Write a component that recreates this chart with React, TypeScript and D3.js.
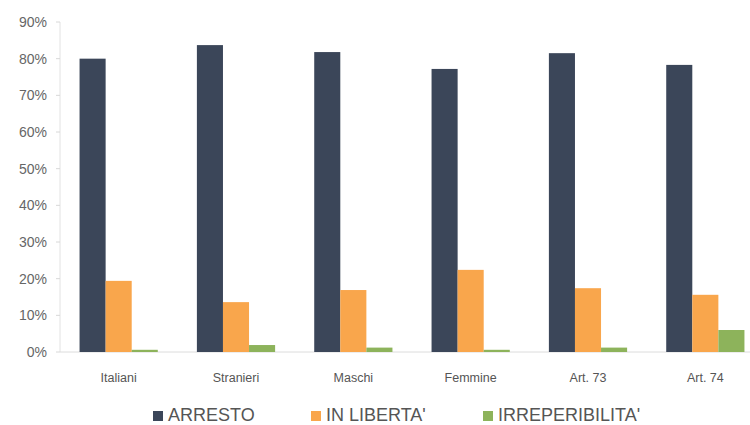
import React from "react";
import * as d3 from "d3";

const categories = ["Italiani", "Stranieri", "Maschi", "Femmine", "Art. 73", "Art. 74"];
const seriesNames = ["ARRESTO", "IN LIBERTA'", "IRREPERIBILITA'"];
const arresto = [80.0, 83.7, 81.8, 77.2, 81.5, 78.3];
const inLiberta = [19.4, 13.6, 16.9, 22.4, 17.4, 15.6];
const irreperibilita = [0.6, 1.9, 1.2, 0.6, 1.2, 6.0];
const yTicks = [0, 10, 20, 30, 40, 50, 60, 70, 80, 90];
const colors = ["#3b4659", "#f9a64c", "#8db35b"];

const W = 750;
const H = 425;
const axisX = 60;

export default function App() {
  const series = [arresto, inLiberta, irreperibilita];
  const x = d3.scaleBand<string>().domain(categories).range([axisX, 764]).paddingInner(0).paddingOuter(0);
  const inner = d3.scaleBand<string>().domain(seriesNames).range([0, x.bandwidth()]).paddingInner(0).paddingOuter(0.75);
  const y = d3.scaleLinear().domain([0, 90]).range([352, 22]);
  const font = "Arial, 'Liberation Sans', sans-serif";

  return (
    <svg width={W} height={H} style={{ position: "absolute", left: 0, top: 0, background: "#fff" }}>
      <rect x={0} y={0} width={W} height={H} fill="#fff" />
      <line x1={axisX} x2={axisX} y1={y(90)} y2={y(0)} stroke="#e2e2e2" strokeWidth={1} />
      <line x1={axisX} x2={W} y1={y(0)} y2={y(0)} stroke="#dcdcdc" strokeWidth={1} />
      {yTicks.map((t) => (
        <g key={t}>
          <line x1={axisX - 4} x2={axisX} y1={y(t)} y2={y(t)} stroke="#d8d8d8" />
          <text x={47} y={y(t)} dy="0.35em" textAnchor="end" fontFamily={font} fontSize={14} fill="#666">
            {t}%
          </text>
        </g>
      ))}
      {categories.map((c, i) => (
        <g key={c}>
          {series.map((s, j) => (
            <rect
              key={j}
              x={(x(c) ?? 0) + (inner(seriesNames[j]) ?? 0)}
              y={y(s[i])}
              width={inner.bandwidth()}
              height={y(0) - y(s[i])}
              fill={colors[j]}
            />
          ))}
          <text
            x={(x(c) ?? 0) + x.bandwidth() / 2}
            y={382}
            textAnchor="middle"
            fontFamily={font}
            fontSize={12.5}
            fill="#555"
          >
            {c}
          </text>
        </g>
      ))}
      {seriesNames.map((n, j) => {
        const lx = [153, 311, 483][j];
        return (
          <g key={n}>
            <rect x={lx} y={411} width={10} height={10} fill={colors[j]} />
            <text x={lx + 15} y={421} fontFamily={font} fontSize={18} fill="#555">
              {n}
            </text>
          </g>
        );
      })}
    </svg>
  );
}
